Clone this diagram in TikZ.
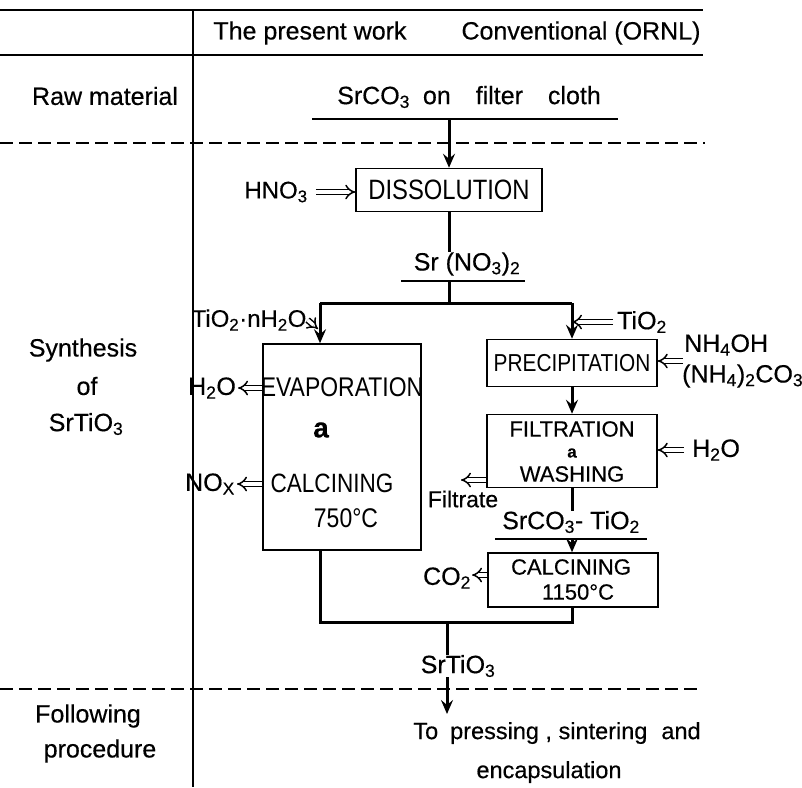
\documentclass[tikz,border=0pt]{standalone}
\usepackage{fontspec}
\setmainfont{Liberation Sans}[FakeBold=0.4]
\newfontfamily\capsfont{Liberation Sans}[FakeStretch=0.85]
\usetikzlibrary{arrows.meta}
\newcommand{\sbs}[1]{\textsubscript{#1}}
\begin{document}
\begin{tikzpicture}[x=1pt,y=-1pt,
  txt/.style={font=\fontsize{25}{27}\selectfont, inner sep=0pt, anchor=center},
  capt/.style={font=\capsfont\fontsize{26.5}{28}\selectfont, inner sep=0pt, anchor=center},
  boxn/.style={draw, line width=1.5pt, inner sep=0pt},
  rule/.style={line width=1.7pt},
  dsh/.style={line width=1.7pt, dash pattern=on 13pt off 6pt},
  flow/.style={line width=3pt},
  arr/.style={flow, -{Stealth[length=14pt,width=12pt,inset=5pt]}},
  dbl/.style={double, double distance=3.5pt, line width=1.5pt, -{Implies}},
]
\useasboundingbox (0,0) rectangle (802,787);
% table frame
\coordinate (tl) at (0,10);   \coordinate (tr) at (703,10);
\coordinate (hl) at (0,55);   \coordinate (hr) at (703,55);
\coordinate (vt) at (193,10); \coordinate (vb) at (193,787);
\draw[rule] (tl) -- (tr);
\draw[rule] (hl) -- (hr);
\draw[rule] (vt) -- (vb);
\coordinate (d1l) at (0,143); \coordinate (d1r) at (705,143);
\draw[dsh] (d1l) -- (d1r);
\coordinate (d2l) at (0,689); \coordinate (d2r) at (697,689);
\draw[dsh] (d2l) -- (d2r);
% header and left column
\node[txt] (hpw) at (310,33) {The present work};
\node[txt] (hconv) at (581,33) {Conventional (ORNL)};
\node[txt] (lraw) at (105,96) {Raw material};
\node[txt] (lsyn1) at (83,350) {Synthesis};
\node[txt] (lsyn2) at (87,386) {of};
\node[txt] (lsyn3) at (86,424) {SrTiO\sbs{3}};
\node[txt] (lfol1) at (88,716) {Following};
\node[txt] (lfol2) at (100,751) {procedure};
% raw material
\node[txt] (raw) at (469,97) {SrCO\sbs{3}\hspace{13pt}on\hspace{25pt}filter\hspace{25pt}cloth};
\coordinate (rul) at (312,119); \coordinate (rur) at (618,119); \coordinate (rum) at (449,119);
\draw[rule] (rul) -- (rur);
% dissolution
\node[boxn, capt, font=\capsfont\fontsize{28}{30}\selectfont, minimum width=186pt, minimum height=43pt] (diss) at (449,190) {DISSOLUTION};
\draw[arr] (rum) -- (diss.north);
\node[txt, font=\fontsize{24}{26}\selectfont] (hno) at (276,192) {HNO\sbs{3}};
\draw[dbl] ([xshift=8pt]hno.east) -- (diss.west |- hno.east);
\node[txt] (srn) at (467,264) {Sr (NO\sbs{3})\sbs{2}};
\draw[flow] (diss.south) -- (diss.south |- srn.north);
\coordinate (srl) at (401,281); \coordinate (srr) at (525,281); \coordinate (srm) at (449,281);
\draw[rule] (srl) -- (srr);
\coordinate (barL) at (320,303); \coordinate (barR) at (572,303); \coordinate (barM) at (449,303);
\draw[flow] (srm) -- (barM);
\draw[flow] (barL) -- (barR);
% left branch: present work
\node[boxn, minimum width=158pt, minimum height=206pt] (evap) at (342,447) {};
\draw[arr] (barL) -- (barL |- evap.north);
\node[txt, font=\fontsize{24}{26}\selectfont] (tinh) at (249,320) {TiO\sbs{2}·nH\sbs{2}O};
\coordinate (tinhT) at (318,329);
\draw[dbl] ([xshift=1pt]tinh.east) -- (tinhT);
\node[capt, font=\capsfont\fontsize{27}{29}\selectfont] (tevap) at (342,387) {EVAPORATION};
\node[txt, font=\bfseries\fontsize{28}{30}\selectfont] (tamp1) at (321,430) {a};
\node[capt] (tcalc1) at (332,483) {CALCINING};
\node[capt, font=\capsfont\fontsize{27}{29}\selectfont] (t750) at (346,518) {750°C};
\node[txt] (h2oa) at (212,388) {H\sbs{2}O};
\draw[dbl] (evap.west |- h2oa) -- ([xshift=2pt]h2oa.east);
\node[txt] (nox) at (210,484) {NO\sbs{X}};
\draw[dbl] (evap.west |- nox) -- ([xshift=2pt]nox.east);
% right branch: conventional
\node[boxn, capt, font=\capsfont\fontsize{24.5}{26}\selectfont, minimum width=170pt, minimum height=47pt] (prec) at (572,363) {PRECIPITATION};
\draw[arr] (barR) -- (prec.north);
\node[txt, anchor=west] (tio) at (617,322) {TiO\sbs{2}};
\draw[dbl] ([xshift=-4pt]tio.west) -- (barR |- tio.west);
\node[txt, anchor=west] (nh4oh) at (684,345) {NH\sbs{4}OH};
\node[txt, anchor=west] (nh4co) at (682,376) {(NH\sbs{4})\sbs{2}CO\sbs{3}};
\coordinate (nhA) at (683,361);
\draw[dbl] (nhA) -- (prec.east |- nhA);
\node[boxn, minimum width=170pt, minimum height=73pt] (filt) at (572,451) {};
\draw[arr] (prec.south) -- (filt.north);
\node[txt, font=\fontsize{22}{24}\selectfont] (tfilt) at (572,429) {FILTRATION};
\node[txt, font=\bfseries\fontsize{17}{18}\selectfont] (tamp2) at (572,453) {a};
\node[txt, font=\fontsize{22}{24}\selectfont] (twash) at (572,474) {WASHING};
\node[txt, anchor=west] (h2ob) at (692,450) {H\sbs{2}O};
\draw[dbl] ([xshift=-8pt]h2ob.west) -- (filt.east |- h2ob.west);
\coordinate (filB) at (461,480);
\draw[dbl] (filt.west |- filB) -- (filB);
\node[txt, font=\fontsize{23}{25}\selectfont] (filtr) at (463,499) {Filtrate};
\node[txt] (sct) at (571,522) {SrCO\sbs{3}- TiO\sbs{2}};
\draw[flow] (filt.south) -- (filt.south |- sct.north);
\coordinate (sctl) at (495,539); \coordinate (sctr) at (647,539); \coordinate (sctm) at (572,539);
\draw[rule] (sctl) -- (sctr);
\node[boxn, minimum width=170pt, minimum height=54pt] (calc) at (573,580) {};
\draw[arr] (sctm) -- (sctm |- calc.north);
\node[txt, font=\fontsize{22}{24}\selectfont] (tcalc2) at (571,567) {CALCINING};
\node[txt, font=\fontsize{22}{24}\selectfont] (t1150) at (578,592) {1150°C};
\node[txt] (co2) at (447,578) {CO\sbs{2}};
\draw[dbl] (calc.west |- 0,575) -- ([xshift=1pt]co2.east |- 0,575);
% merge
\coordinate (mrgL) at (320,622); \coordinate (mrgR) at (572,622); \coordinate (mrgM) at (447,622);
\draw[flow] (barL |- evap.south) -- (mrgL) -- (mrgR) -- (mrgR |- calc.south);
\node[txt] (srt) at (458,666) {SrTiO\sbs{3}};
\draw[flow] (mrgM) -- (mrgM |- srt.north);
\coordinate (endA) at (447,714);
\draw[arr] (srt.south -| mrgM) -- (endA);
\node[txt, font=\fontsize{23.5}{25}\selectfont] (top1) at (557,733) {To\hspace{12pt}pressing , sintering\hspace{14pt}and};
\node[txt, font=\fontsize{23.5}{25}\selectfont] (top2) at (549,772) {encapsulation};
\end{tikzpicture}
\end{document}
